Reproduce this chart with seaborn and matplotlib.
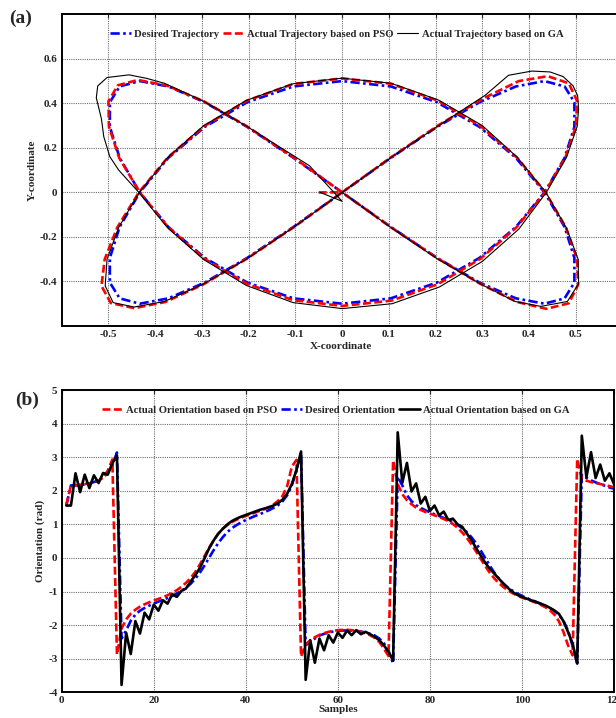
import numpy as np
import seaborn as sns
import matplotlib.pyplot as plt

# ---------------- (a) trajectory data ----------------
desired_x = [0.0, -0.104, -0.203, -0.294, -0.372, -0.433, -0.476, -0.497, -0.497, -0.476,
             -0.433, -0.372, -0.294, -0.203, -0.104, 0.0, 0.104, 0.203, 0.294, 0.372,
             0.433, 0.476, 0.497, 0.497, 0.476, 0.433, 0.372, 0.294, 0.203, 0.104,
             0.0, -0.104, -0.203, -0.294, -0.372, -0.433, -0.476, -0.497, -0.497, -0.476,
             -0.433, -0.372, -0.294, -0.203, -0.104, 0.0, 0.104, 0.203, 0.294, 0.372,
             0.433, 0.476, 0.497, 0.497, 0.476, 0.433, 0.372, 0.294, 0.203, 0.104, 0.0]
desired_y = [0.0, 0.155, 0.294, 0.405, 0.476, 0.5, 0.476, 0.405, 0.294, 0.155,
             0.0, -0.155, -0.294, -0.405, -0.476, -0.5, -0.476, -0.405, -0.294, -0.155,
             0.0, 0.155, 0.294, 0.405, 0.476, 0.5, 0.476, 0.405, 0.294, 0.155,
             0.0, -0.155, -0.294, -0.405, -0.476, -0.5, -0.476, -0.405, -0.294, -0.155,
             0.0, 0.155, 0.294, 0.405, 0.476, 0.5, 0.476, 0.405, 0.294, 0.155,
             0.0, -0.155, -0.294, -0.405, -0.476, -0.5, -0.476, -0.405, -0.294, -0.155, 0.0]

pso_x = [-0.05, 0.0, -0.104, -0.204, -0.296, -0.375, -0.437, -0.480, -0.500, -0.499, -0.477,
         -0.433, -0.372, -0.295, -0.204, -0.105, 0.0, 0.106, 0.205, 0.296, 0.373,
         0.434, 0.478, 0.500, 0.503, 0.485, 0.440, 0.378, 0.298, 0.205, 0.105,
         0.0, -0.104, -0.204, -0.297, -0.378, -0.445, -0.495, -0.515, -0.508, -0.481,
         -0.435, -0.373, -0.295, -0.204, -0.105, 0.0, 0.105, 0.205, 0.296, 0.374,
         0.435, 0.479, 0.503, 0.505, 0.485, 0.437, 0.374, 0.295, 0.204, 0.104, 0.0]
pso_y = [0.0, 0.0, 0.157, 0.297, 0.409, 0.480, 0.505, 0.481, 0.409, 0.296, 0.155,
         0.0, -0.157, -0.298, -0.410, -0.484, -0.510, -0.486, -0.412, -0.298, -0.157,
         0.0, 0.157, 0.296, 0.410, 0.490, 0.522, 0.500, 0.418, 0.300, 0.158,
         0.0, -0.157, -0.298, -0.413, -0.492, -0.520, -0.497, -0.420, -0.300, -0.157,
         0.0, 0.157, 0.298, 0.412, 0.487, 0.512, 0.488, 0.412, 0.298, 0.157,
         0.0, -0.158, -0.300, -0.415, -0.498, -0.523, -0.492, -0.410, -0.296, -0.156, 0.0]

ga_x = [-0.047, 0.0, -0.07, -0.205, -0.297, -0.38, -0.418, -0.456, -0.503, -0.523, -0.526,
        -0.515, -0.51, -0.497, -0.478, -0.435, -0.373, -0.296, -0.205, -0.105, 0.0,
        0.107, 0.208, 0.30, 0.378, 0.437, 0.48, 0.503, 0.506, 0.504, 0.494,
        0.473, 0.445, 0.406, 0.356, 0.306, 0.21, 0.107, 0.0, -0.104, -0.205,
        -0.298, -0.38, -0.445, -0.49, -0.507, -0.503, -0.478, -0.434, -0.373, -0.296,
        -0.205, -0.105, 0.0, 0.105, 0.206, 0.30, 0.375, 0.436, 0.48, 0.505,
        0.506, 0.482, 0.425, 0.37, 0.295, 0.205, 0.104, 0.0]
ga_y = [0.0, -0.04, 0.12, 0.298, 0.41, 0.49, 0.512, 0.528, 0.516, 0.478, 0.425,
        0.33, 0.25, 0.16, 0.10, 0.0, -0.16, -0.302, -0.418, -0.495, -0.522,
        -0.50, -0.425, -0.31, -0.165, 0.0, 0.157, 0.296, 0.374, 0.434, 0.479,
        0.52, 0.541, 0.545, 0.526, 0.436, 0.305, 0.16, 0.0, -0.157, -0.30,
        -0.413, -0.49, -0.515, -0.495, -0.42, -0.30, -0.157, 0.0, 0.157, 0.30,
        0.413, 0.488, 0.513, 0.49, 0.415, 0.30, 0.157, 0.0, -0.16, -0.30,
        -0.41, -0.49, -0.512, -0.49, -0.41, -0.30, -0.157, 0.0]

# ---------------- (b) orientation data (rad), samples 1..120 ----------------
samples = list(range(1, 121))
desired_theta = [1.57, 2.16, 2.16, 2.17, 2.19, 2.22, 2.26, 2.31, 2.40, 2.54,
                 2.76, 3.14, -2.40, -2.16, -1.87, -1.69, -1.57, -1.49, -1.42, -1.36,
                 -1.30, -1.25, -1.19, -1.13, -1.06, -0.98, -0.89, -0.77, -0.62, -0.44,
                 -0.23, 0.00, 0.23, 0.44, 0.62, 0.77, 0.89, 0.98, 1.06, 1.13,
                 1.19, 1.25, 1.30, 1.36, 1.42, 1.49, 1.57, 1.69, 1.87, 2.16,
                 2.62, 3.14, -2.60, -2.50, -2.40, -2.31, -2.26, -2.22, -2.19, -2.17,
                 -2.16, -2.16, -2.16, -2.17, -2.19, -2.22, -2.26, -2.31, -2.40, -2.54,
                 -2.76, -3.14, 2.42, 2.16, 1.87, 1.69, 1.57, 1.49, 1.42, 1.36,
                 1.30, 1.25, 1.19, 1.13, 1.06, 0.98, 0.89, 0.77, 0.62, 0.44,
                 0.23, 0.00, -0.23, -0.44, -0.62, -0.77, -0.89, -0.98, -1.06, -1.13,
                 -1.19, -1.25, -1.30, -1.36, -1.42, -1.49, -1.57, -1.69, -1.87, -2.16,
                 -2.62, -3.14, 2.47, 2.38, 2.31, 2.25, 2.20, 2.15, 2.10, 2.06]
pso_theta = [1.57, 2.16, 2.17, 2.18, 2.20, 2.22, 2.25, 2.30, 2.40, 2.60,
             2.93, -2.88, -2.10, -1.83, -1.66, -1.54, -1.45, -1.38, -1.32, -1.27,
             -1.22, -1.17, -1.11, -1.04, -0.96, -0.86, -0.74, -0.60, -0.42, -0.20,
             0.05, 0.30, 0.52, 0.72, 0.87, 0.98, 1.07, 1.14, 1.20, 1.25,
             1.30, 1.35, 1.40, 1.45, 1.51, 1.59, 1.70, 1.85, 2.15, 2.72,
             2.92, -2.94, -2.58, -2.45, -2.36, -2.29, -2.24, -2.20, -2.17, -2.15,
             -2.14, -2.14, -2.15, -2.17, -2.20, -2.24, -2.30, -2.38, -2.50, -2.70,
             -2.92, 2.90, 2.20, 1.90, 1.72, 1.60, 1.50, 1.43, 1.37, 1.32,
             1.27, 1.22, 1.16, 1.10, 1.01, 0.90, 0.76, 0.60, 0.41, 0.20,
             -0.02, -0.24, -0.44, -0.61, -0.75, -0.87, -0.97, -1.05, -1.12, -1.18,
             -1.23, -1.28, -1.33, -1.39, -1.46, -1.55, -1.68, -1.88, -2.20, -2.60,
             -2.90, 2.95, 2.35, 2.30, 2.26, 2.23, 2.20, 2.17, 2.14, 2.10]
ga_theta = [1.56, 1.56, 2.52, 1.96, 2.48, 2.08, 2.46, 2.23, 2.53, 2.48,
            2.82, 3.05, -3.78, -2.23, -2.86, -1.88, -2.25, -1.63, -1.83, -1.39,
            -1.57, -1.26, -1.36, -1.08, -1.16, -0.98, -0.91, -0.70, -0.52, -0.30,
            -0.02, 0.28, 0.52, 0.72, 0.87, 1.00, 1.10, 1.17, 1.23, 1.28,
            1.33, 1.38, 1.43, 1.47, 1.51, 1.56, 1.63, 1.74, 1.92, 2.20,
            2.62, 3.17, -3.63, -2.45, -3.12, -2.40, -2.75, -2.30, -2.52, -2.22,
            -2.38, -2.16, -2.30, -2.15, -2.27, -2.20, -2.27, -2.35, -2.45, -2.60,
            -2.80, -3.05, 3.74, 2.24, 2.83, 1.98, 2.22, 1.62, 1.82, 1.40,
            1.56, 1.27, 1.38, 1.13, 1.17, 1.00, 0.93, 0.73, 0.54, 0.30,
            0.08, -0.14, -0.32, -0.47, -0.62, -0.77, -0.90, -1.02, -1.10, -1.16,
            -1.21, -1.26, -1.31, -1.36, -1.41, -1.48, -1.56, -1.66, -1.88, -2.20,
            -2.55, -3.14, 3.64, 2.40, 3.15, 2.38, 2.78, 2.30, 2.52, 2.20]

x_ticks_a = [-0.5, -0.4, -0.3, -0.2, -0.1, 0, 0.1, 0.2, 0.3, 0.4, 0.5]
y_ticks_a = [-0.4, -0.2, 0, 0.2, 0.4, 0.6]
x_ticks_b = [0, 20, 40, 60, 80, 100, 120]
y_ticks_b = [-4, -3, -2, -1, 0, 1, 2, 3, 4, 5]

BLUE = '#0000FF'
RED = '#FF0000'
BLACK = '#000000'
FS = 8
LEG_FS = 7.7

sns.set_style('white')
plt.rcParams['font.family'] = ['Liberation Serif', 'DejaVu Serif']
plt.rcParams['font.weight'] = 'bold'

fig = plt.figure(figsize=(6.16, 7.18), dpi=100)
ax1 = fig.add_axes([0.1002, 0.5460, 0.9104, 0.4341])
ax2 = fig.add_axes([0.1002, 0.0358, 0.8966, 0.4210])


def style_axes(ax, xt, yt, xlim, ylim):
    ax.set_xlim(*xlim)
    ax.set_ylim(*ylim)
    ax.set_xticks(xt)
    ax.set_yticks(yt)
    ax.set_xticklabels(['{:g}'.format(v) for v in xt], fontsize=FS, fontweight='bold')
    ax.set_yticklabels(['{:g}'.format(v) for v in yt], fontsize=FS, fontweight='bold')
    ax.tick_params(direction='in', top=True, right=True, length=3, width=0.8, pad=3)
    ax.grid(True, color='#707070', linestyle=(0, (1, 1)), linewidth=0.8)
    for spine in ax.spines.values():
        spine.set_visible(True)
        spine.set_color('black')
        spine.set_linewidth(1.4)


# ---------------- (a) ----------------
sns.lineplot(x=desired_x, y=desired_y, sort=False, estimator=None, ax=ax1,
             color=BLUE, lw=1.9, label='Desired Trajectory')
ax1.lines[-1].set_dashes((3.5, 1.3, 1.0, 1.3))
sns.lineplot(x=pso_x, y=pso_y, sort=False, estimator=None, ax=ax1,
             color=RED, lw=1.9, label='Actual Trajectory based on PSO')
ax1.lines[-1].set_dashes((3.0, 1.3))
sns.lineplot(x=ga_x, y=ga_y, sort=False, estimator=None, ax=ax1,
             color=BLACK, lw=0.8, label='Actual Trajectory based on GA')

style_axes(ax1, x_ticks_a, y_ticks_a, (-0.6, 0.6), (-0.6, 0.8))
ax1.set_xlabel('X-coordinate', fontsize=FS, fontweight='bold')
ax1.set_ylabel('Y-coordinate', fontsize=FS, fontweight='bold')
ax1.xaxis.set_label_coords(0.498, -0.050)
ax1.yaxis.set_label_coords(-0.045, 0.5)
h = ax1.lines
ax1.legend(handles=[h[0], h[1], h[2]], loc='center', bbox_to_anchor=(0.49, 0.937),
           ncol=3, frameon=False, handlelength=2.0,
           handletextpad=0.3, columnspacing=0.3, borderpad=0.2,
           prop={'weight': 'bold', 'size': LEG_FS})

# ---------------- (b) ----------------
sns.lineplot(x=samples, y=desired_theta, sort=False, estimator=None, ax=ax2,
             color=BLUE, lw=1.9, label='Desired Orientation')
ax2.lines[-1].set_dashes((3.5, 1.3, 1.0, 1.3))
sns.lineplot(x=samples, y=pso_theta, sort=False, estimator=None, ax=ax2,
             color=RED, lw=1.9, label='Actual Orientation based on PSO')
ax2.lines[-1].set_dashes((3.0, 1.3))
sns.lineplot(x=samples, y=ga_theta, sort=False, estimator=None, ax=ax2,
             color=BLACK, lw=1.9, label='Actual Orientation based on GA')

style_axes(ax2, x_ticks_b, y_ticks_b, (0, 120), (-4, 5))
ax2.set_xlabel('Samples', fontsize=FS, fontweight='bold')
ax2.set_ylabel('Orientation (rad)', fontsize=FS, fontweight='bold')
ax2.xaxis.set_label_coords(0.5, -0.042)
ax2.yaxis.set_label_coords(-0.030, 0.5)
h = ax2.lines
ax2.legend(handles=[h[1], h[0], h[2]], loc='center', bbox_to_anchor=(0.496, 0.934),
           ncol=3, frameon=False, handlelength=2.0,
           handletextpad=0.3, columnspacing=0.3, borderpad=0.2,
           prop={'weight': 'bold', 'size': LEG_FS})

fig.text(0.033, 0.975, '(a)', fontsize=14, fontweight='bold', ha='center', va='center')
fig.text(0.044, 0.443, '(b)', fontsize=14, fontweight='bold', ha='center', va='center')

fig.savefig('out.png', dpi=100)
